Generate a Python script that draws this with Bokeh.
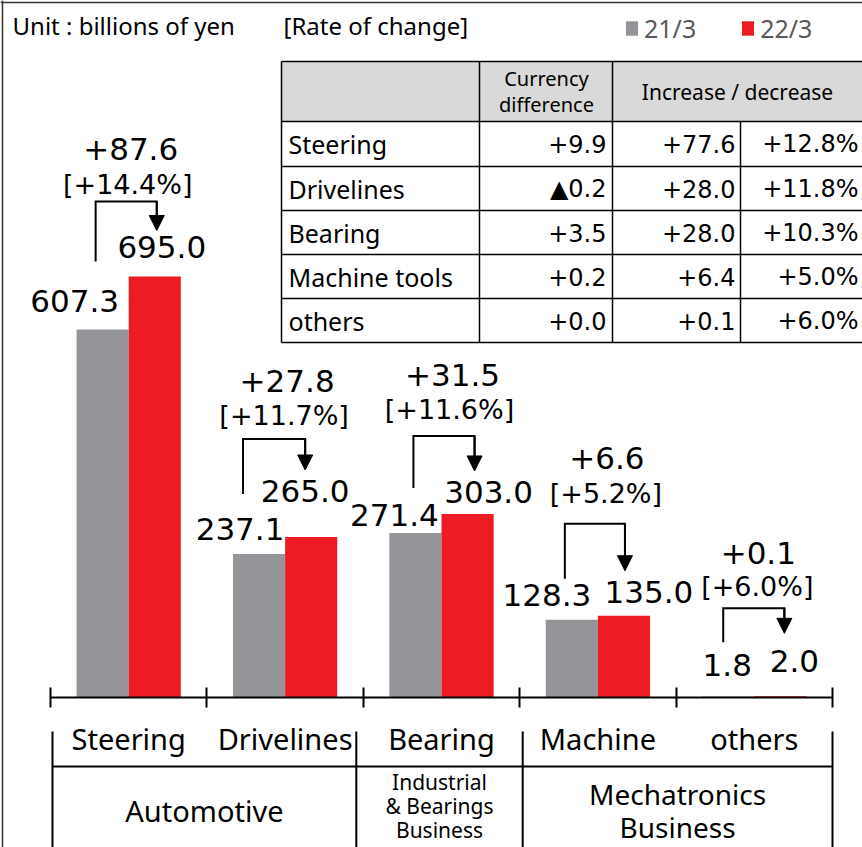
import numpy as np
from bokeh.plotting import figure
from bokeh.models import (Range1d, FixedTicker, LinearAxis, Arrow, NormalHead,
                          ColumnDataSource, Legend, LegendItem)
from bokeh.core.properties import value
from bokeh.embed import file_html
from bokeh.resources import INLINE

# ---------------- data ----------------
categories = ["Steering", "Drivelines", "Bearing", "Machine", "others"]
series = ["21/3", "22/3"]
sales_21_3 = [607.3, 237.1, 271.4, 128.3, 1.8]
sales_22_3 = [695.0, 265.0, 303.0, 135.0, 2.0]
change = [87.6, 27.8, 31.5, 6.6, 0.1]
change_rate = [14.4, 11.7, 11.6, 5.2, 6.0]

groups = [["Automotive"], ["Industrial", "& Bearings", "Business"], ["Mechatronics", "Business"]]
group_bounds = [0, 2, 3, 5]

table_head = [["Currency", "difference"], ["Increase / decrease"]]
table_rows = ["Steering", "Drivelines", "Bearing", "Machine tools", "others"]
table_currency = ["+9.9", "\u25b20.2", "+3.5", "+0.2", "+0.0"]
table_change = ["+77.6", "+28.0", "+28.0", "+6.4", "+0.1"]
table_rate = ["+12.8%", "+11.8%", "+10.3%", "+5.0%", "+6.0%"]

unit_text = "Unit : billions of yen"
rate_text = "[Rate of change]"

# ---------------- layout helpers (page pixels -> data) ----------------
W, H, M = 862, 847, 0
X0, SX = 50.0, 156.4           # page x of category 0 boundary, px per category
Y0, SY = 697.0, 421.0 / 695.0  # page y of zero line, px per billion yen


def xd(px):
    return (px - X0) / SX


def yd(py):
    return (Y0 - py) / SY


def dxp(d):
    return d / SX


def dyp(d):
    return d / SY


GRAY = "#939598"
RED = "#ED1C24"
TXT = value("Noto Sans")
NUM = value("DejaVu Sans")

p = figure(width=W, height=H, output_backend="svg", toolbar_location=None,
           x_range=Range1d(xd(M), xd(M + W)), y_range=Range1d(yd(M + H), yd(M)),
           x_axis_location=None, y_axis_location=None, min_border=0)
p.outline_line_color = None
for g in p.grid:
    g.visible = False
p.background_fill_color = "white"

n = len(categories)
idx = np.arange(n)
gx = idx + 0.5 - 1 / 6
rx = idx + 0.5 + 1 / 6
src = ColumnDataSource(dict(gx=gx, rx=rx, v21=sales_21_3, v22=sales_22_3))
rg = p.vbar(x="gx", top="v21", bottom=0, width=1 / 3, source=src, fill_color=GRAY, line_color=None)
rr = p.vbar(x="rx", top="v22", bottom=0, width=1 / 3, source=src, fill_color=RED, line_color=None)

# axis at zero with boundary ticks
ax = LinearAxis(ticker=FixedTicker(ticks=[i + 0.5 for i in range(n)],
                                   minor_ticks=[float(i) for i in range(n + 1)]),
                fixed_location=0, bounds=(0, n),
                major_label_overrides={i + 0.5: c for i, c in enumerate(categories)},
                major_tick_line_color=None, major_tick_in=0, major_tick_out=0,
                minor_tick_in=10, minor_tick_out=10, minor_tick_line_color="black",
                minor_tick_line_width=2, axis_line_color="black", axis_line_width=2,
                major_label_text_font="Noto Sans", major_label_text_font_size="29px",
                major_label_text_color="black", major_label_standoff=11)
p.add_layout(ax, "below")

# value labels (offsets in px from the bar tops)
g_off = [(-28, 29), (-19, 25), (-21, 18), (-25, 25), (-1, 31)]
r_off = [(7, 30), (-6, 46), (21, 22), (25, 24), (14, 35)]
p.text(x=[gx[i] + dxp(g_off[i][0]) for i in range(n)],
       y=[sales_21_3[i] + dyp(g_off[i][1]) for i in range(n)],
       text=[f"{v:.1f}" for v in sales_21_3], text_font=NUM, text_font_size="31px",
       text_align="center", text_baseline="middle", text_color="black")
p.text(x=[rx[i] + dxp(r_off[i][0]) for i in range(n)],
       y=[sales_22_3[i] + dyp(r_off[i][1]) for i in range(n)],
       text=[f"{v:.1f}" for v in sales_22_3], text_font=NUM, text_font_size="31px",
       text_align="center", text_baseline="middle", text_color="black")

# brackets with arrows
br_lx = [-7, -16, -2, -7, -5]     # px from gray bar centre
br_rx = [2, -6, 7, 1, 4]          # px from red bar centre
br_top = [75, 98, 78, 92, 88]     # px above red bar top
br_lb = [15, 43, 26, 37, 54]
br_tip = [46, 67, 43, 45, 63]
lx = [gx[i] + dxp(br_lx[i]) for i in range(n)]
ax_x = [rx[i] + dxp(br_rx[i]) for i in range(n)]
top = [sales_22_3[i] + dyp(br_top[i]) for i in range(n)]
lb = [sales_22_3[i] + dyp(br_lb[i]) for i in range(n)]
tip = [sales_22_3[i] + dyp(br_tip[i]) for i in range(n)]
p.multi_line(xs=[[lx[i], lx[i], ax_x[i], ax_x[i]] for i in range(n)],
             ys=[[lb[i], top[i], top[i], tip[i] + dyp(8)] for i in range(n)],
             line_color="black", line_width=2, line_join="miter")
asrc = ColumnDataSource(dict(x0=ax_x, y0=top, x1=ax_x, y1=tip))
p.add_layout(Arrow(end=NormalHead(size=15, fill_color="black", line_color="black", line_width=1),
                   x_start="x0", y_start="y0", x_end="x1", y_end="y1", source=asrc,
                   line_color="black", line_width=2))

# change labels
ch_dx = [2, 2, 11, 9, 4]
ch_up = [53, 58, 61, 66, 55]
rt_dx = [-1, -1, 8, 8, 3]
rt_up = [17, 23, 26, 30, 22]
p.text(x=[i + 0.5 + dxp(ch_dx[i]) for i in range(n)],
       y=[top[i] + dyp(ch_up[i]) for i in range(n)],
       text=[f"+{c:.1f}" for c in change], text_font=NUM, text_font_size="31px",
       text_align="center", text_baseline="middle", text_color="black")
p.text(x=[i + 0.5 + dxp(rt_dx[i]) for i in range(n)],
       y=[top[i] + dyp(rt_up[i]) for i in range(n)],
       text=[f"[+{r:.1f}%]" for r in change_rate], text_font=NUM, text_font_size="27px",
       text_align="center", text_baseline="middle", text_color="black")

# header
p.text(x=[xd(12)], y=[yd(25)], text=[unit_text], text_font=TXT, text_font_size="24px",
       text_align="left", text_baseline="middle", text_color="black")
p.text(x=[xd(283)], y=[yd(25)], text=[rate_text], text_font=TXT, text_font_size="24px",
       text_align="left", text_baseline="middle", text_color="black")

legend = Legend(items=[LegendItem(label=series[0], renderers=[rg]),
                       LegendItem(label=series[1], renderers=[rr])],
                orientation="horizontal", location=(624, H - 45),
                glyph_width=15, glyph_height=18, label_standoff=5, spacing=44,
                padding=0, margin=0, border_line_color=None, background_fill_alpha=0,
                label_text_font="Noto Sans", label_text_font_size="25px",
                label_text_color="#595959", label_height=18)
p.add_layout(legend)

# table (top right)
t_cols = [281, 479, 612, 740]
t_rows = [61, 121, 166, 210, 254, 298, 342]
t_right = 870
p.quad(left=[xd(t_cols[0])], right=[xd(t_right)], top=[yd(t_rows[0])], bottom=[yd(t_rows[1])],
       fill_color="#d9d9d9", line_color=None)
hx0 = [xd(t_cols[0])] * len(t_rows)
hx1 = [xd(t_right)] * len(t_rows)
hy = [yd(r) for r in t_rows]
p.segment(x0=hx0, y0=hy, x1=hx1, y1=hy, line_color="black", line_width=1.5)
vx = [xd(c) for c in t_cols]
vy0 = [yd(t_rows[0]), yd(t_rows[0]), yd(t_rows[0]), yd(t_rows[1])]
vy1 = [yd(t_rows[-1])] * 4
p.segment(x0=vx, y0=vy0, x1=vx, y1=vy1, line_color="black", line_width=1.5)

row_mid = [yd((t_rows[k] + t_rows[k + 1]) / 2) for k in range(1, len(t_rows) - 1)]
p.text(x=[xd(288)] * len(table_rows), y=row_mid, text=table_rows, text_font=TXT,
       text_font_size="25px", text_align="left", text_baseline="middle", text_color="black")
for col_x, col in [(606, table_currency), (735, table_change), (858, table_rate)]:
    p.text(x=[xd(col_x)] * len(col), y=row_mid, text=col, text_font=NUM,
           text_font_size="24px", text_align="right", text_baseline="middle", text_color="black")
p.text(x=[xd(546), xd(546)], y=[yd(78), yd(104)], text=table_head[0], text_font=TXT,
       text_font_size="20px", text_align="center", text_baseline="middle", text_color="black")
p.text(x=[xd(737)], y=[yd(91)], text=table_head[1], text_font=TXT,
       text_font_size="21px", text_align="center", text_baseline="middle", text_color="black")

# frame border (left and top)
p.segment(x0=[xd(2), xd(0)], y0=[yd(0), yd(2)], x1=[xd(2), xd(W)], y1=[yd(H), yd(2)],
          line_color="#333333", line_width=1.5)

# category / segment table below the axis
g_nudge = [2, -7, 3, 0]
g_edges = [group_bounds[k] + dxp(g_nudge[k]) for k in range(len(group_bounds))]
p.segment(x0=g_edges, y0=[yd(731)] * 4, x1=g_edges, y1=[yd(H + 2)] * 4,
          line_color="black", line_width=2)
p.segment(x0=[g_edges[0]], y0=[yd(766)], x1=[g_edges[-1]], y1=[yd(766)],
          line_color="black", line_width=2)
g_layout = [(29, [810]), (21, [781, 805, 829]), (28, [793, 826])]
for k, lines in enumerate(groups):
    cx = (g_edges[k] + g_edges[k + 1]) / 2
    fs, ys = g_layout[k]
    p.text(x=[cx] * len(lines), y=[yd(v) for v in ys], text=lines, text_font=TXT,
           text_font_size=f"{fs}px", text_align="center", text_baseline="middle",
           text_color="black")

open("out.html", "w").write(file_html(p, INLINE))
